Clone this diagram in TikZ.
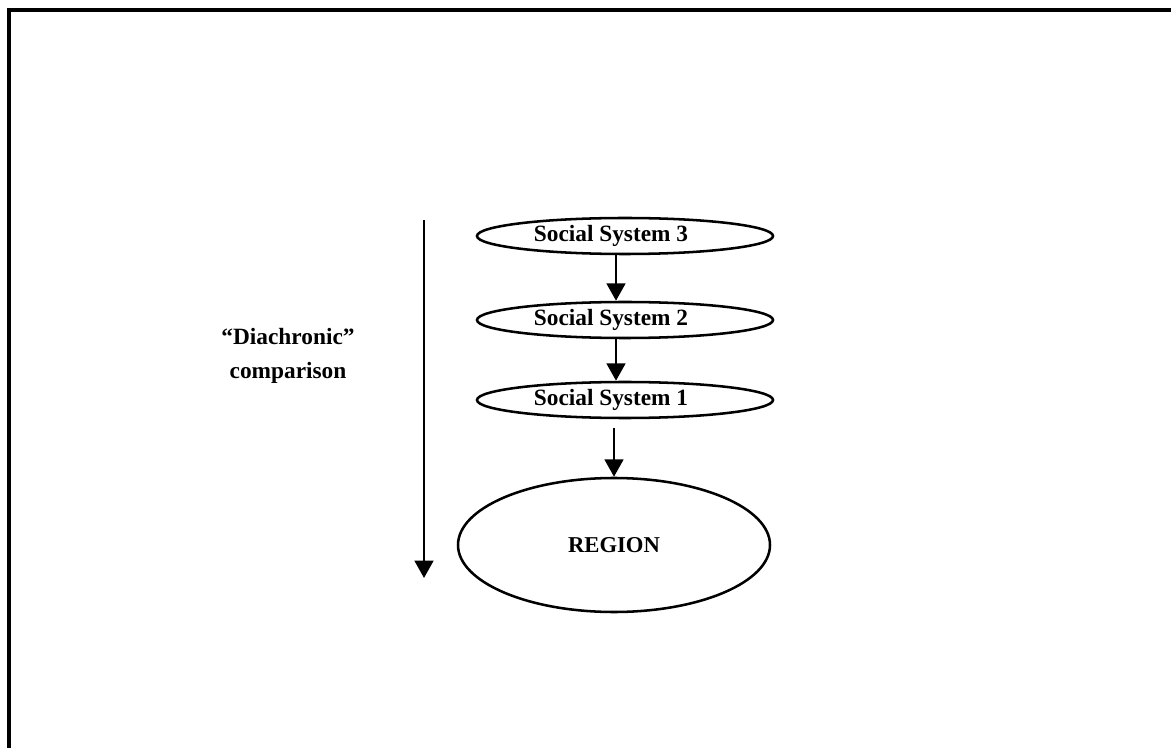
\documentclass[tikz,border=0pt]{standalone}
\usepackage{fontspec}
\setmainfont{Liberation Serif}
\usetikzlibrary{shapes.geometric,arrows.meta}
\begin{document}
\begin{tikzpicture}[x=0.75pt,y=-0.75pt,
  sysnode/.style={ellipse,draw,line width=1.9pt,inner sep=0pt,minimum width=296*0.75pt,minimum height=36*0.75pt},
  systext/.style={inner sep=0pt,font=\fontsize{17.5}{20}\selectfont\bfseries},
  regnode/.style={ellipse,draw,line width=1.9pt,inner sep=0pt,minimum width=312*0.75pt,minimum height=134*0.75pt,font=\fontsize{17}{20}\selectfont\bfseries},
  conn/.style={line width=1.9pt,-{Triangle[width=14pt,length=13pt]}},
  lbl/.style={align=center,font=\fontsize{17.5}{26}\selectfont\bfseries}]
\useasboundingbox (0,0) rectangle (1171,748);
\coordinate (bl) at (9,748);
\coordinate (tl) at (9,10);
\coordinate (tr) at (1171,10);
\draw[line width=2.3pt] (bl) -- (tl) -- (tr);
\node[sysnode] (s3) at (625,236) {};
\node[systext] (s3t) at (611,236) {Social System 3};
\node[sysnode] (s2) at (625,320) {};
\node[systext] (s2t) at (611,320) {Social System 2};
\node[sysnode] (s1) at (625,400) {};
\node[systext] (s1t) at (611,400) {Social System 1};
\node[regnode] (reg) at (614,545) {REGION};
\draw[conn] (s3.south -| 616,0) -- (s2.north -| 616,0);
\draw[conn] (s2.south -| 616,0) -- (s1.north -| 616,0);
\coordinate (s1b) at (614,428);
\draw[conn] (s1b) -- (reg.north -| 614,0);
\coordinate (ltop) at (424,220);
\coordinate (lbot) at (424,578);
\draw[conn] (ltop) -- (lbot);
\node[lbl] (dia) at (288,356) {“Diachronic”\\comparison};
\end{tikzpicture}
\end{document}
